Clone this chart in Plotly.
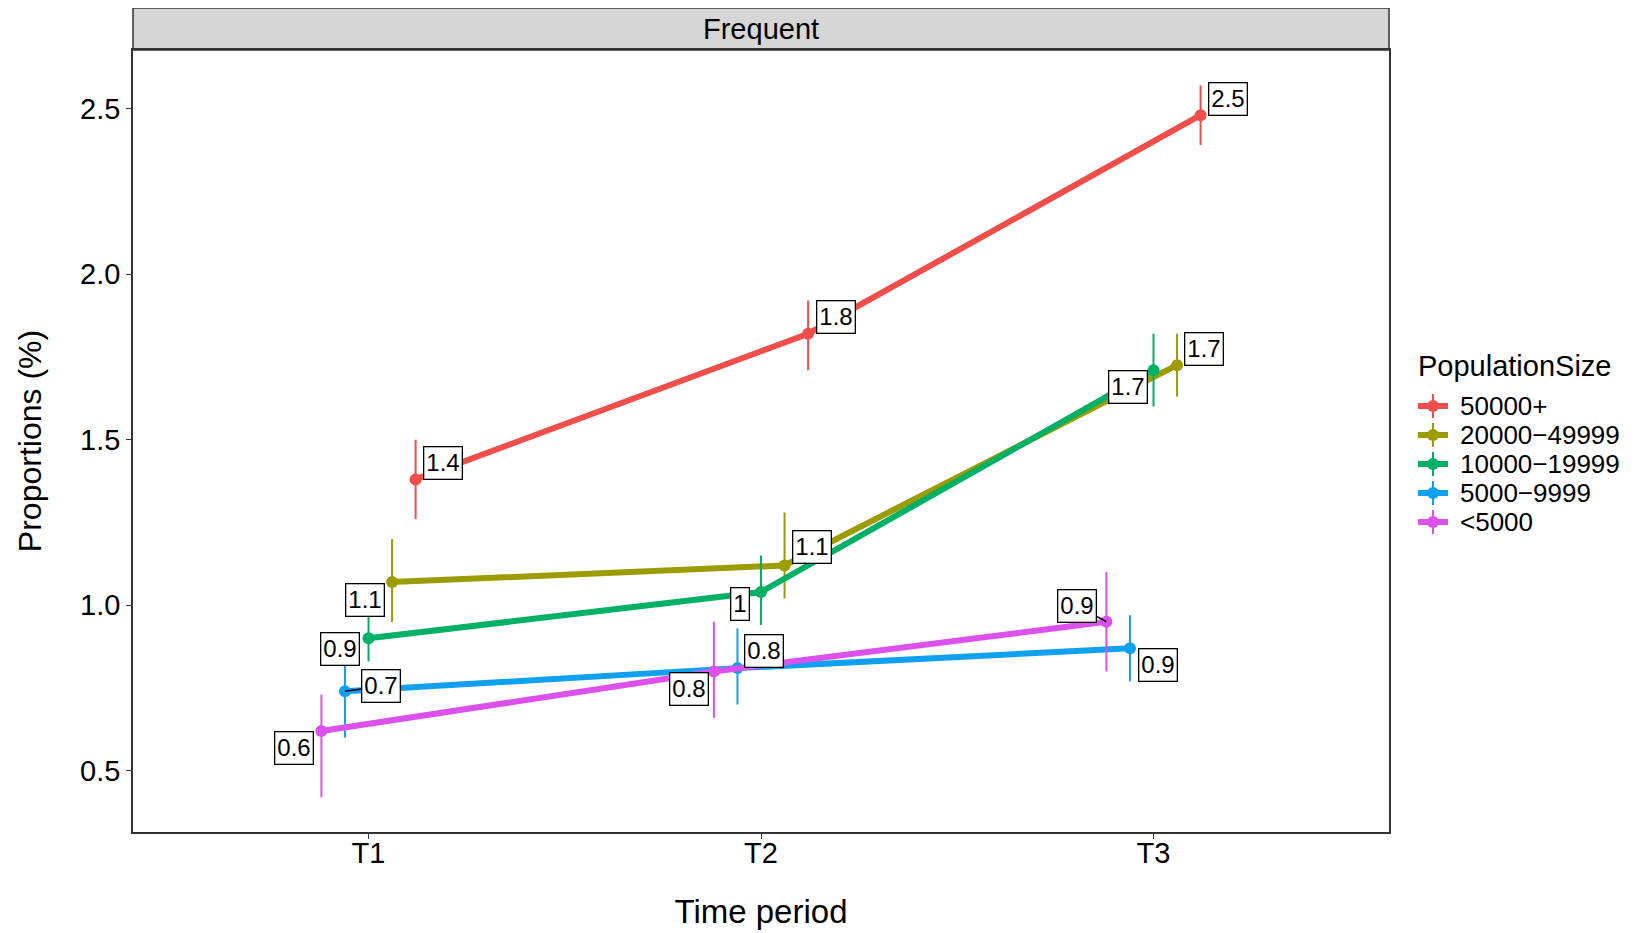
import plotly.graph_objects as go

# ---------------- data ----------------
periods = ["T1", "T2", "T3"]
groups = ["50000+", "20000\u221249999", "10000\u221219999", "5000\u22129999", "<5000"]

mean_50000 = [1.38, 1.82, 2.48]
low_50000 = [1.26, 1.71, 2.39]
high_50000 = [1.50, 1.92, 2.57]

mean_20000 = [1.07, 1.12, 1.725]
low_20000 = [0.95, 1.02, 1.63]
high_20000 = [1.20, 1.28, 1.82]

mean_10000 = [0.90, 1.04, 1.71]
low_10000 = [0.83, 0.94, 1.60]
high_10000 = [0.98, 1.15, 1.82]

mean_5000 = [0.74, 0.81, 0.87]
low_5000 = [0.60, 0.70, 0.77]
high_5000 = [0.84, 0.93, 0.97]

mean_lt5000 = [0.62, 0.80, 0.95]
low_lt5000 = [0.42, 0.66, 0.80]
high_lt5000 = [0.73, 0.95, 1.10]

means = [mean_50000, mean_20000, mean_10000, mean_5000, mean_lt5000]
lows = [low_50000, low_20000, low_10000, low_5000, low_lt5000]
highs = [high_50000, high_20000, high_10000, high_5000, high_lt5000]

# ---------------- style ----------------
colors = ["#F04E4A", "#9C9C00", "#00B066", "#10A0F0", "#DC50EC"]
dodge = [0.12, 0.06, 0.0, -0.06, -0.12]
# label offsets in pixels (dx right, dy down) and whether a connector is visible
label_offsets = [
    [(27, -16), (28, -17), (27, -16)],
    [(-27, 18), (27, -18), (27, -16)],
    [(-29, 11), (-21, 12), (-26, 17)],
    [(36, -5), (27, -17), (28, 17)],
    [(-27, 17), (-25, 18), (-29, -16)],
]
label_segment = [
    [False, False, False],
    [False, False, False],
    [False, False, False],
    [True, False, False],
    [False, False, True],
]
FONT = "Liberation Sans, Arial, sans-serif"
W, H = 1644, 933
OFF = 8  # page body margin


def px(x):
    return (x - OFF) / W


def py(y):
    return 1 - (y - OFF) / H


fig = go.Figure()
for gi, g in enumerate(groups):
    xs = [i + 1 + dodge[gi] for i in range(len(periods))]
    m = means[gi]
    fig.add_trace(go.Scatter(
        x=xs, y=m, name=g, mode="lines+markers", showlegend=False,
        line=dict(color=colors[gi], width=6),
        marker=dict(color=colors[gi], size=12),
        error_y=dict(type="data", symmetric=False,
                     array=[h - v for h, v in zip(highs[gi], m)],
                     arrayminus=[v - l for l, v in zip(lows[gi], m)],
                     color=colors[gi], thickness=2, width=0),
    ))

annotations = []
for gi in range(len(groups)):
    for i in range(len(periods)):
        v = means[gi][i]
        dx, dy = label_offsets[gi][i]
        a = dict(
            x=i + 1 + dodge[gi], y=v, xref="x", yref="y",
            text=f"{round(v, 1):g}",
            font=dict(family=FONT, size=24, color="black"),
            bgcolor="white", bordercolor="black", borderwidth=1.3, borderpad=2,
        )
        if label_segment[gi][i]:
            a.update(showarrow=True, arrowhead=0, arrowwidth=1.5,
                     arrowcolor="black", ax=dx, ay=dy)
        else:
            a.update(showarrow=False, xshift=dx, yshift=-dy)
        annotations.append(a)

# panel and strip in page pixels
PL, PR, PT, PB, ST = 133, 1389, 50, 832, 8
X0, X1 = px(PL), px(PR)
Y0, Y1 = py(PB), py(PT)
S1 = py(ST)

annotations.append(dict(
    x=(X0 + X1) / 2, y=(Y1 + S1) / 2, xref="paper", yref="paper",
    text="Frequent", showarrow=False, xanchor="center", yanchor="middle",
    font=dict(family=FONT, size=29, color="black")))

shapes = [dict(type="rect", xref="paper", yref="paper", x0=X0, x1=X1, y0=Y1, y1=S1,
               fillcolor="#D6D6D6", line=dict(color="#333333", width=1.5), layer="below")]

# custom legend (ggplot style)
annotations.append(dict(
    x=px(1416), y=py(366), xref="paper", yref="paper", text="PopulationSize",
    showarrow=False, xanchor="left", yanchor="middle",
    font=dict(family=FONT, size=29, color="black")))
leg_y0, leg_dy = 406, 29
for gi, g in enumerate(groups):
    cy = leg_y0 + gi * leg_dy
    kx0, kx1 = 1418, 1448
    kc = (kx0 + kx1) / 2
    shapes.append(dict(type="line", xref="paper", yref="paper",
                       x0=px(kx0), x1=px(kx1), y0=py(cy), y1=py(cy),
                       line=dict(color=colors[gi], width=6)))
    shapes.append(dict(type="line", xref="paper", yref="paper",
                       x0=px(kc), x1=px(kc), y0=py(cy - 12), y1=py(cy + 12),
                       line=dict(color=colors[gi], width=2)))
    shapes.append(dict(type="circle", xref="paper", yref="paper",
                       x0=px(kc - 6), x1=px(kc + 6), y0=py(cy - 6), y1=py(cy + 6),
                       fillcolor=colors[gi], line=dict(color=colors[gi], width=0)))
    annotations.append(dict(
        x=px(1459), y=py(cy), xref="paper", yref="paper", text=g,
        showarrow=False, xanchor="left", yanchor="middle", borderpad=0,
        font=dict(family=FONT, size=26, color="black")))

fig.update_layout(
    width=W, height=H,
    margin=dict(l=0, r=0, t=0, b=0),
    paper_bgcolor="white", plot_bgcolor="white",
    font=dict(family=FONT, color="black"),
    showlegend=False,
    xaxis=dict(domain=[X0, X1], range=[0.4, 3.6],
               tickvals=[1, 2, 3], ticktext=periods,
               showgrid=False, zeroline=False,
               showline=True, linecolor="#333333", linewidth=1.5, mirror=True,
               ticks="outside", ticklen=5, tickcolor="#333333",
               ticklabelstandoff=-11,
               tickfont=dict(size=29, family=FONT, color="black"),
               title=dict(text="Time period", standoff=32,
                          font=dict(size=33, family=FONT, color="black")),
               automargin=False),
    yaxis=dict(domain=[Y0, Y1], range=[0.315, 2.677],
               tickvals=[0.5, 1.0, 1.5, 2.0, 2.5], tickformat=".1f",
               showgrid=False, zeroline=False,
               showline=True, linecolor="#333333", linewidth=1.5, mirror=True,
               ticks="outside", ticklen=5, tickcolor="#333333",
               tickfont=dict(size=29, family=FONT, color="black"),
               title=dict(text="Proportions (%)", standoff=29,
                          font=dict(size=32, family=FONT, color="black")),
               automargin=False),
    shapes=shapes,
    annotations=annotations,
)

fig.write_html("out.html")
